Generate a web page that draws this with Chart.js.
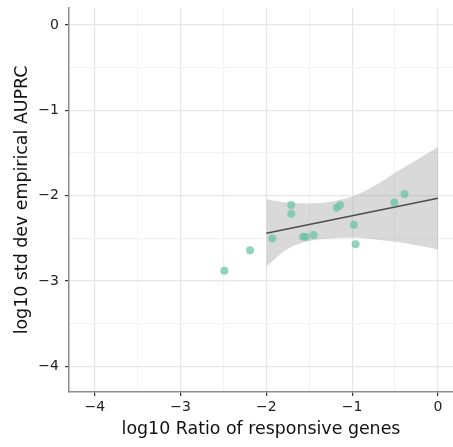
<!DOCTYPE html>
<html>
<head>
<meta charset="utf-8">
<script src="https://cdn.jsdelivr.net/npm/chart.js@4"></script>
<style>
  html, body { margin: 0; padding: 0; background: #fff; }
  #wrap { width: 453px; height: 447px; }
</style>
</head>
<body>
<div id="wrap"><canvas id="scatterChart" width="453" height="447"></canvas></div>
<script>
// points
const ratioLog = [-2.49, -2.19, -1.93, -1.71, -1.71, -1.57, -1.54, -1.45, -1.18, -1.14, -0.98, -0.96, -0.51, -0.39];
const sdLog = [-2.88, -2.64, -2.50, -2.11, -2.21, -2.48, -2.48, -2.46, -2.14, -2.11, -2.34, -2.57, -2.08, -1.98];

// fitted line and its confidence band
const fitX = [-2, 0];
const fitY = [-2.44, -2.03];
const bandX = [-2, -1.75, -1.5, -1.25, -1, -0.75, -0.5, -0.25, 0];
const bandUpper = [-2.04, -2.08, -2.09, -2.07, -2.01, -1.89, -1.73, -1.58, -1.43];
const bandLower = [-2.83, -2.62, -2.53, -2.50, -2.49, -2.51, -2.54, -2.58, -2.63];

// axes
const xTicks = [-4, -3.5, -3, -2.5, -2, -1.5, -1, -0.5, 0];
const yTicks = [-4, -3.5, -3, -2.5, -2, -1.5, -1, -0.5, 0];
const xRange = [-4.3, 0.175];
const yRange = [-4.3, 0.2];

const toXY = (xs, ys) => xs.map((x, i) => ({ x: x, y: ys[i] }));
const isMajor = v => Number.isInteger(v);
const fmt = v => isMajor(v) ? String(v).replace('-', '\u2212') : '';

const FONT = 'DejaVu Sans';

function gridColor(ctx) {
  return isMajor(ctx.tick.value) ? '#e6e6e6' : '#f2f2f2';
}
function tickColor(ctx) {
  return isMajor(ctx.tick.value) ? '#333333' : 'rgba(0,0,0,0)';
}

const ctx = document.getElementById('scatterChart').getContext('2d');
new Chart(ctx, {
  type: 'scatter',
  data: {
    datasets: [
      {
        label: 'genes',
        data: toXY(ratioLog, sdLog),
        backgroundColor: 'rgba(102,194,165,0.72)',
        borderWidth: 0,
        pointRadius: 4,
        pointHoverRadius: 4
      },
      {
        type: 'line',
        label: 'fit',
        data: toXY(fitX, fitY),
        borderColor: '#4d4d4d',
        borderWidth: 1.6,
        pointRadius: 0,
        fill: false
      },
      {
        type: 'line',
        label: 'upper',
        data: toXY(bandX, bandUpper),
        borderWidth: 0,
        borderColor: 'rgba(0,0,0,0)',
        pointRadius: 0,
        cubicInterpolationMode: 'monotone',
        fill: '+1',
        backgroundColor: 'rgba(160,160,160,0.4)'
      },
      {
        type: 'line',
        label: 'lower',
        data: toXY(bandX, bandLower),
        borderWidth: 0,
        borderColor: 'rgba(0,0,0,0)',
        pointRadius: 0,
        cubicInterpolationMode: 'monotone',
        fill: false
      }
    ]
  },
  options: {
    responsive: false,
    animation: false,
    layout: { autoPadding: false, padding: { top: 8, right: 0, left: 0, bottom: 0 } },
    plugins: {
      legend: { display: false },
      tooltip: { enabled: false }
    },
    scales: {
      x: {
        type: 'linear',
        min: xRange[0],
        max: xRange[1],
        afterBuildTicks: scale => { scale.ticks = xTicks.map(v => ({ value: v })); },
        afterFit: scale => {
          scale.height = 55;
          scale.paddingLeft = 0;
          scale.paddingRight = 0;
        },
        border: { display: true, color: '#8c8c8c', width: 1.5 },
        grid: { color: gridColor, lineWidth: 1.2, tickLength: 4, tickColor: tickColor, tickWidth: 1.2 },
        ticks: {
          autoSkip: false,
          maxRotation: 0,
          padding: 3,
          color: '#222',
          font: { family: FONT, size: 14 },
          callback: v => fmt(v)
        },
        title: {
          display: true,
          text: 'log10 Ratio of responsive genes',
          color: '#111',
          font: { family: FONT, size: 17.4 },
          padding: { top: 7, bottom: 7 }
        }
      },
      y: {
        type: 'linear',
        min: yRange[0],
        max: yRange[1],
        afterBuildTicks: scale => { scale.ticks = yTicks.map(v => ({ value: v })); },
        afterFit: scale => {
          scale.width = 69;
          scale.paddingTop = 0;
          scale.paddingBottom = 0;
        },
        border: { display: true, color: '#8c8c8c', width: 1.5 },
        grid: { color: gridColor, lineWidth: 1.2, tickLength: 4, tickColor: tickColor, tickWidth: 1.2 },
        ticks: {
          autoSkip: false,
          padding: 6,
          color: '#222',
          font: { family: FONT, size: 14 },
          callback: v => fmt(v)
        },
        title: {
          display: true,
          text: 'log10 std dev empirical AUPRC',
          color: '#111',
          font: { family: FONT, size: 17.4 },
          padding: { top: 12, bottom: 0 }
        }
      }
    }
  }
});
</script>
</body>
</html>
